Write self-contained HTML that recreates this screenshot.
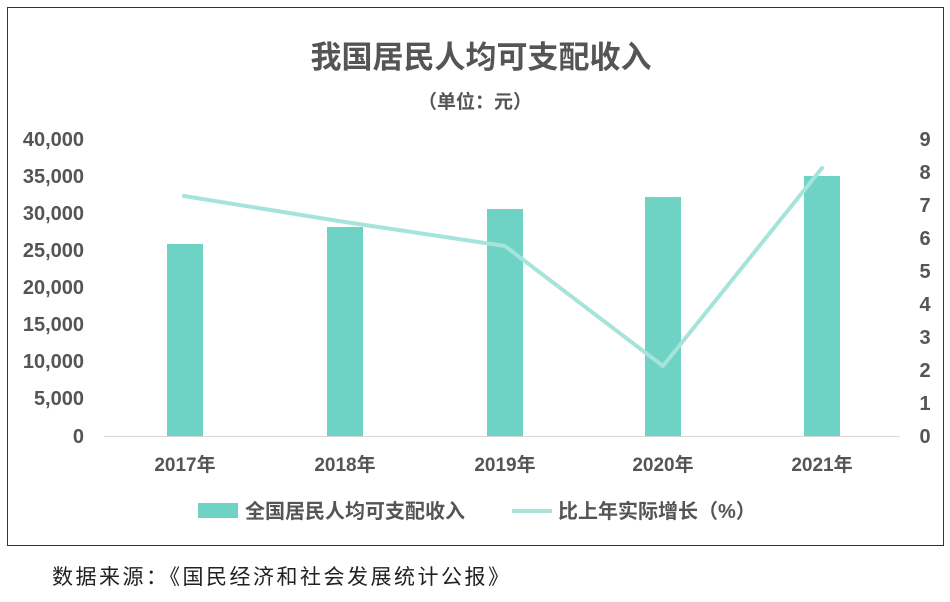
<!DOCTYPE html>
<html><head><meta charset="utf-8"><style>
body{margin:0;background:#fff;width:950px;height:597px;overflow:hidden}
svg text{font-family:"Liberation Sans","Noto Sans CJK SC",sans-serif}
</style></head><body>
<svg width="950" height="597" xmlns="http://www.w3.org/2000/svg">
<rect x="7.5" y="7.5" width="936" height="538" fill="#fff" stroke="#333" stroke-width="1"/>
<text x="481" y="68" text-anchor="middle" font-size="31" font-weight="bold" fill="#555">我国居民人均可支配收入</text>
<text x="475" y="108" text-anchor="middle" font-size="19" font-weight="bold" fill="#555">（单位：元）</text>
<g font-size="20" font-weight="bold" fill="#555" text-anchor="end">
<text x="84" y="146">40,000</text><text x="84" y="183">35,000</text><text x="84" y="220">30,000</text><text x="84" y="257">25,000</text><text x="84" y="294">20,000</text><text x="84" y="331">15,000</text><text x="84" y="368">10,000</text><text x="84" y="405">5,000</text><text x="84" y="443">0</text>
</g>
<g font-size="20" font-weight="bold" fill="#555" text-anchor="middle">
<text x="925" y="146">9</text><text x="925" y="179">8</text><text x="925" y="212">7</text><text x="925" y="245">6</text><text x="925" y="278">5</text><text x="925" y="311">4</text><text x="925" y="344">3</text><text x="925" y="377">2</text><text x="925" y="410">1</text><text x="925" y="443">0</text>
</g>
<line x1="104" y1="436.5" x2="900" y2="436.5" stroke="#d9d9d9" stroke-width="1"/>
<g fill="#6ed3c5">
<rect x="167" y="244" width="36" height="192"/>
<rect x="327" y="227" width="36" height="209"/>
<rect x="487" y="209" width="36" height="227"/>
<rect x="645" y="197" width="36" height="239"/>
<rect x="804" y="176" width="36" height="260"/>
</g>
<polyline points="184,196 345,222 505,246 663,366 822,168" fill="none" stroke="#a6e3da" stroke-width="4" stroke-linejoin="round" stroke-linecap="round"/>
<g font-size="19" font-weight="bold" fill="#555" text-anchor="middle">
<text x="185" y="471">2017年</text><text x="345" y="471">2018年</text><text x="505" y="471">2019年</text><text x="663" y="471">2020年</text><text x="822" y="471">2021年</text>
</g>
<rect x="198" y="503" width="40" height="15" fill="#6ed3c5"/>
<text x="245" y="518" font-size="20" font-weight="bold" fill="#555">全国居民人均可支配收入</text>
<line x1="512" y1="511" x2="552" y2="511" stroke="#a6e3da" stroke-width="4"/>
<text x="558" y="518" font-size="20" font-weight="bold" fill="#555">比上年实际增长（%）</text>
<text x="52" y="584" font-size="21" letter-spacing="2.5" fill="#222">数据来源：《国民经济和社会发展统计公报》</text>
</svg>
</body></html>
